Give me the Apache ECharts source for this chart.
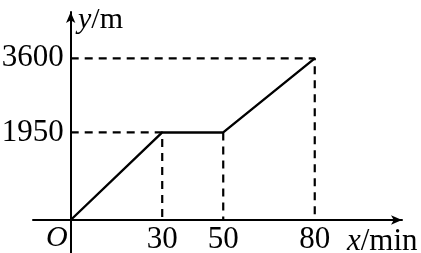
<!DOCTYPE html>
<html><head><meta charset="utf-8">
<script src="https://cdn.jsdelivr.net/npm/echarts@6/dist/echarts.min.js"></script>
<style>html,body{margin:0;padding:0;background:#fff}#c{width:421px;height:253px}</style>
</head><body><div id="c"></div>
<script>
// Data
const xValues = [0, 30, 50, 80];          // time, min
const yValues = [0, 1950, 1950, 3600];    // distance, m
const xTickLabels = [30, 50, 80];
const yTickLabels = [1950, 3600];

const serif = '"Liberation Serif", "DejaVu Serif", serif';
const mainData = xValues.map((x, i) => [x, yValues[i]]);
// dashed guides from the data points to the axes
const guides = [
  [[0, yValues[1]], [xValues[1], yValues[1]], [xValues[1], 0]],
  [[xValues[2], yValues[2]], [xValues[2], 0]],
  [[0, yValues[3]], [xValues[3], yValues[3]], [xValues[3], 0]]
];

const X_MIN = -12.36, X_MAX = 108.6, Y_MIN = -735, Y_MAX = 4632;
const axisLineStyle = {onZero: true, lineStyle: {color: '#000', width: 2}, symbol: ['none', 'arrow'], symbolSize: [7, 11]};

const chart = echarts.init(document.getElementById('c'), null, {renderer: 'canvas'});
chart.setOption({
  animation: false,
  backgroundColor: '#fff',
  grid: [
    {left: 33, right: 19, top: 12, bottom: 0, containLabel: false, outerBoundsMode: 'none'},
    {left: 70.7, right: 19, top: 12, bottom: 33, containLabel: false, outerBoundsMode: 'none'}
  ],
  xAxis: [
    {gridIndex: 0, type: 'value', min: X_MIN, max: X_MAX, splitLine: {show: false},
      axisLine: axisLineStyle, axisTick: {show: false}, axisLabel: {show: false}},
    {gridIndex: 1, type: 'value', min: 0, max: X_MAX, splitLine: {show: false},
      axisLine: {show: false}, axisTick: {show: false},
      axisLabel: {customValues: xTickLabels, formatter: v => String(v), color: '#000', fontFamily: serif, fontSize: 31, margin: 4}}
  ],
  yAxis: [
    {gridIndex: 0, type: 'value', min: Y_MIN, max: Y_MAX, splitLine: {show: false},
      axisLine: axisLineStyle, axisTick: {show: false}, axisLabel: {show: false}},
    {gridIndex: 1, type: 'value', min: 0, max: Y_MAX, splitLine: {show: false},
      axisLine: {show: false}, axisTick: {show: false},
      axisLabel: {customValues: yTickLabels, formatter: v => String(v), color: '#000', fontFamily: serif, fontSize: 31, margin: 7}}
  ],
  series: [
    ...guides.map(g => ({
      type: 'line', xAxisIndex: 1, yAxisIndex: 1, data: g, symbol: 'none', silent: true,
      lineStyle: {color: '#000', width: 2.2, type: [8, 6]}
    })),
    {type: 'line', xAxisIndex: 1, yAxisIndex: 1, data: mainData, symbol: 'none', lineStyle: {color: '#000', width: 2.4}}
  ],
  graphic: [
    {type: 'text', left: 78, top: 5, style: {text: '{i|y}/m', font: '30px ' + serif, fill: '#000',
      rich: {i: {fontStyle: 'italic', fontFamily: serif, fontSize: 30}}}},
    {type: 'text', left: 347, top: 226, style: {text: '{i|x}/min', font: '31px ' + serif, fill: '#000',
      rich: {i: {fontStyle: 'italic', fontFamily: serif, fontSize: 31}}}},
    {type: 'text', left: 46, top: 223, style: {text: 'O', font: 'italic 30px ' + serif, fill: '#000'}}
  ]
});
</script></body></html>
